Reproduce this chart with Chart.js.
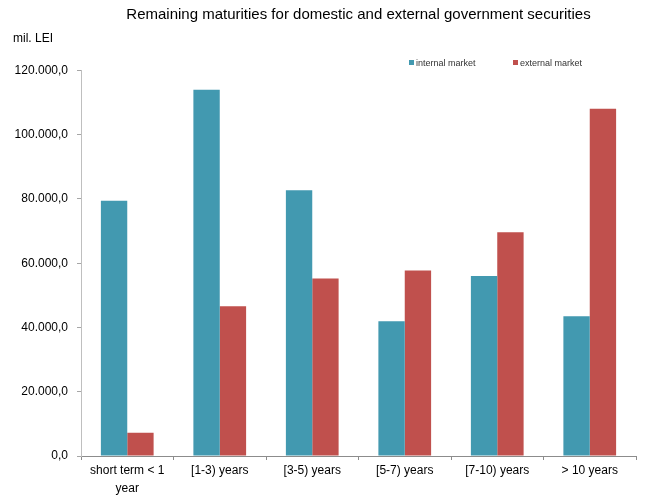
<!DOCTYPE html>
<html>
<head>
<meta charset="utf-8">
<script src="https://cdn.jsdelivr.net/npm/chart.js@4.4.1/dist/chart.umd.min.js"></script>
<style>
  body { margin: 0; background: #fff; }
  #wrap { position: relative; width: 657px; height: 495px; }
  #legend { position: absolute; top: 57px; left: 0; font: 9px "Liberation Sans", Arial, sans-serif; color: #333; }
  #legend span { position: absolute; white-space: nowrap; line-height: 12px; }
  #legend i { display: inline-block; width: 5px; height: 5px; margin-right: 2px; vertical-align: 1px; }
</style>
</head>
<body>
<div id="wrap">
  <canvas id="myChart" width="657" height="495"></canvas>
  <div id="legend"></div>
</div>
<script>
const categories = [["short term < 1", "year"], "[1-3) years", "[3-5) years", "[5-7) years", "[7-10) years", "> 10 years"];
const internalMarket = [79400, 114000, 82700, 41900, 56000, 43500];
const externalMarket = [7200, 46600, 55200, 57700, 69600, 108100];
const seriesNames = ["internal market", "external market"];
const seriesColors = ["#4299B0", "#C0504D"];

function formatRo(v) {
  let s = Math.round(v).toString().replace(/\B(?=(\d{3})+(?!\d))/g, ".");
  return s + ",0";
}

// legend drawn as html, placed like the original
let legend = document.getElementById("legend");
const legendX = [409, 513];
for (let i = 0; i < seriesNames.length; i++) {
  let item = document.createElement("span");
  item.style.left = legendX[i] + "px";
  item.innerHTML = '<i style="background:' + seriesColors[i] + '"></i>' + seriesNames[i];
  legend.appendChild(item);
}

Chart.defaults.font.family = '"Liberation Sans", Arial, sans-serif';
Chart.defaults.color = "#000";

const ctx = document.getElementById("myChart").getContext("2d");
const myChart = new Chart(ctx, {
  type: "bar",
  data: {
    labels: categories,
    datasets: [
      {
        label: seriesNames[0],
        data: internalMarket,
        backgroundColor: seriesColors[0],
      },
      {
        label: seriesNames[1],
        data: externalMarket,
        backgroundColor: seriesColors[1],
      },
    ],
  },
  options: {
    responsive: false,
    animation: false,
    layout: { padding: { left: 13, right: 21, top: 0, bottom: 0 } },
    datasets: { bar: { categoryPercentage: 0.57, barPercentage: 1 } },
    plugins: {
      legend: { display: false },
      tooltip: { enabled: false },
      title: {
        display: true,
        text: "Remaining maturities for domestic and external government securities",
        fullSize: false,
        font: { size: 15, weight: "normal" },
        color: "#000",
        padding: { top: 6, bottom: 7 },
      },
      subtitle: {
        display: true,
        text: "mil. LEI",
        align: "start",
        font: { size: 12 },
        color: "#000",
        padding: { top: 0, bottom: 25 },
      },
    },
    scales: {
      x: {
        border: { color: "#8c8c8c" },
        grid: { drawOnChartArea: false, color: "#8c8c8c", tickLength: 4 },
        ticks: { padding: 2, font: { size: 12, lineHeight: 1.5 }, color: "#000", maxRotation: 0, autoSkip: false },
        afterFit: function (scale) { scale.height = 39; },
      },
      y: {
        min: 0,
        max: 120000,
        border: { color: "#bfbfbf" },
        grid: { drawOnChartArea: false, color: "#a6a6a6", tickLength: 4 },
        ticks: { stepSize: 20000, padding: 9, font: { size: 12 }, color: "#000", callback: (v) => formatRo(v) },
        afterFit: function (scale) { scale.width = 68; },
      },
    },
  },
});
</script>
</body>
</html>
